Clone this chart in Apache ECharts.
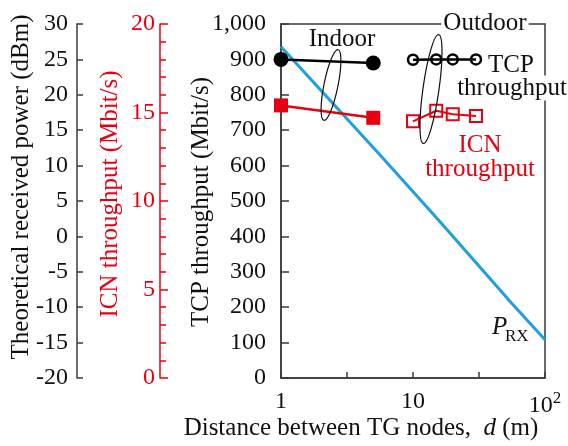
<!DOCTYPE html>
<html>
<head>
<meta charset="utf-8">
<script src="https://cdn.jsdelivr.net/npm/echarts@6/dist/echarts.min.js"></script>
<style>
  html, body { margin: 0; padding: 0; background: #fff; }
  #chart { width: 568px; height: 446px; }
</style>
</head>
<body>
<div id="chart"></div>
<script>
// values
var prxDist = [1, 5.5, 15.6, 55.7, 100]
var prxPower = [26.8, 11.7, 2.3, -9.4, -14.6]

var indoorDist = [1, 5]
var indoorTcp = [900, 890]
var indoorIcn = [15.4, 14.7]

var outdoorDist = [10, 15, 20, 30]
var outdoorTcp = [899, 900, 900, 900]
var outdoorIcn = [14.5, 15.1, 14.9, 14.8]

var powerTicks = [-20, 30, 5]
var icnTicks = [0, 20, 5]
var tcpTicks = [0, 1000, 100]
var decadeTicks = [0, 2, 0.5]

function pairs (xs, ys) {
  return xs.map(function (x, i) { return [x, ys[i]] })
}

var FONT = 'Liberation Serif'
var RED = '#e60012'
var BLUE = '#1e9fe0'
var AX = '#3a3a3a'

function txt (x, y, text, color, extra, style) {
  return Object.assign({
    type: 'text', x: x, y: y, z: 100,
    style: Object.assign({
      text: text, fill: color || '#111', fontFamily: FONT, fontSize: 25,
      align: 'center', verticalAlign: 'middle'
    }, style || {})
  }, extra || {})
}

var chart = echarts.init(document.getElementById('chart'))
chart.setOption({
  animation: false,
  backgroundColor: '#fff',
  textStyle: { fontFamily: FONT },
  grid: {
    left: 281, right: 23, top: 24, bottom: 68,
    show: true, borderColor: AX, borderWidth: 1.5, backgroundColor: 'transparent'
  },
  xAxis: [
    {
      type: 'log', logBase: 10, min: 1, max: 100,
      axisLine: { lineStyle: { color: AX, width: 1.5 } },
      axisTick: { show: false },
      splitLine: { show: false },
      axisLabel: {
        margin: 12, color: '#111', fontFamily: FONT, fontSize: 24,
        formatter: function (v) { return v === 100 ? '10{s|2}' : String(v) },
        rich: { s: { fontSize: 17, fontFamily: FONT, color: '#111', padding: [0, 0, 14, 0] } }
      }
    },
    {
      // decade and half-decade ticks of the log axis (exponent 0..2)
      type: 'value', position: 'bottom', min: decadeTicks[0], max: decadeTicks[1], interval: decadeTicks[2],
      axisLine: { show: false },
      axisTick: { show: true, inside: true, length: 6, lineStyle: { color: AX, width: 1.5 } },
      axisLabel: { show: false },
      splitLine: { show: false }
    }
  ],
  yAxis: [
    {
      type: 'value', position: 'left', min: tcpTicks[0], max: tcpTicks[1], interval: tcpTicks[2],
      axisLine: { show: true, lineStyle: { color: AX, width: 1.5 } },
      axisTick: { show: true, inside: true, length: 8, lineStyle: { color: AX, width: 1.5 } },
      splitLine: { show: false },
      axisLabel: {
        margin: 15, color: '#111', fontFamily: FONT, fontSize: 24,
        formatter: function (v) { return v >= 1000 ? '1,000' : String(v) }
      }
    },
    {
      type: 'value', position: 'left', offset: 121, min: icnTicks[0], max: icnTicks[1], interval: icnTicks[2],
      axisLine: { show: true, lineStyle: { color: RED, width: 1.5 } },
      axisTick: { show: true, inside: true, length: 8, lineStyle: { color: RED, width: 1.5 } },
      minorTick: { show: true, splitNumber: 5, length: 6, lineStyle: { color: RED, width: 1.5 } },
      splitLine: { show: false },
      axisLabel: { margin: 5, color: RED, fontFamily: FONT, fontSize: 24 }
    },
    {
      type: 'value', position: 'left', offset: 204, min: powerTicks[0], max: powerTicks[1], interval: powerTicks[2],
      axisLine: { show: true, lineStyle: { color: AX, width: 1.5 } },
      axisTick: { show: true, inside: true, length: 6, lineStyle: { color: AX, width: 1.5 } },
      splitLine: { show: false },
      axisLabel: { margin: 9, color: '#111', fontFamily: FONT, fontSize: 24 }
    }
  ],
  series: [
    {
      name: 'PRX', type: 'line', yAxisIndex: 2, data: pairs(prxDist, prxPower),
      symbol: 'none', lineStyle: { color: BLUE, width: 3 }, silent: true
    },
    {
      name: 'Indoor TCP', type: 'line', yAxisIndex: 0, data: pairs(indoorDist, indoorTcp),
      symbol: 'circle', symbolSize: 15,
      itemStyle: { color: '#000' }, lineStyle: { color: '#000', width: 2.5 }
    },
    {
      name: 'Indoor ICN', type: 'line', yAxisIndex: 1, data: pairs(indoorDist, indoorIcn),
      symbol: 'rect', symbolSize: 14,
      itemStyle: { color: RED }, lineStyle: { color: RED, width: 2.5 }
    },
    {
      name: 'Outdoor TCP', type: 'line', yAxisIndex: 0, data: pairs(outdoorDist, outdoorTcp),
      symbol: 'circle', symbolSize: 10,
      itemStyle: { color: 'rgba(0,0,0,0)', borderColor: '#000', borderWidth: 2.5 },
      lineStyle: { color: '#000', width: 2.5 }
    },
    {
      name: 'Outdoor ICN', type: 'line', yAxisIndex: 1, data: pairs(outdoorDist, outdoorIcn),
      symbol: 'rect', symbolSize: 12,
      itemStyle: { color: 'rgba(0,0,0,0)', borderColor: RED, borderWidth: 2 },
      lineStyle: { color: RED, width: 2 }
    }
  ],
  graphic: [
    // axis titles
    txt(21, 187, 'Theoretical received power (dBm)', '#111', { rotation: Math.PI / 2 }),
    txt(110, 194, 'ICN throughput (Mbit/s)', RED, { rotation: Math.PI / 2 }),
    txt(201, 202, 'TCP throughput (Mbit/s)', '#111', { rotation: Math.PI / 2 }),
    txt(361, 428, 'Distance between TG nodes,  {i|d} (m)', '#111', null, {
      rich: { i: { fontStyle: 'italic', fontFamily: FONT, fontSize: 25, fill: '#111' } }
    }),
    // annotations
    txt(342, 39, 'Indoor'),
    txt(485, 23, 'Outdoor', '#111', null, { backgroundColor: '#fff', padding: [0, 2] }),
    txt(511, 65, 'TCP'),
    txt(512, 88, 'throughput', '#111', null, { backgroundColor: '#fff' }),
    txt(480, 145, 'ICN', RED),
    txt(480, 169, 'throughput', RED),
    txt(492, 327, 'P', '#111', null, { fontStyle: 'italic', align: 'left' }),
    txt(505, 337, 'RX', '#111', null, { fontSize: 17, align: 'left' }),
    {
      type: 'ellipse', x: 331, y: 85, rotation: -0.2, z: 100,
      shape: { cx: 0, cy: 0, rx: 7, ry: 36 },
      style: { fill: 'none', stroke: '#111', lineWidth: 1.2 }
    },
    {
      type: 'ellipse', x: 431, y: 89, rotation: -0.14, z: 100,
      shape: { cx: 0, cy: 0, rx: 8, ry: 55 },
      style: { fill: 'none', stroke: '#111', lineWidth: 1.2 }
    }
  ]
})
</script>
</body>
</html>
